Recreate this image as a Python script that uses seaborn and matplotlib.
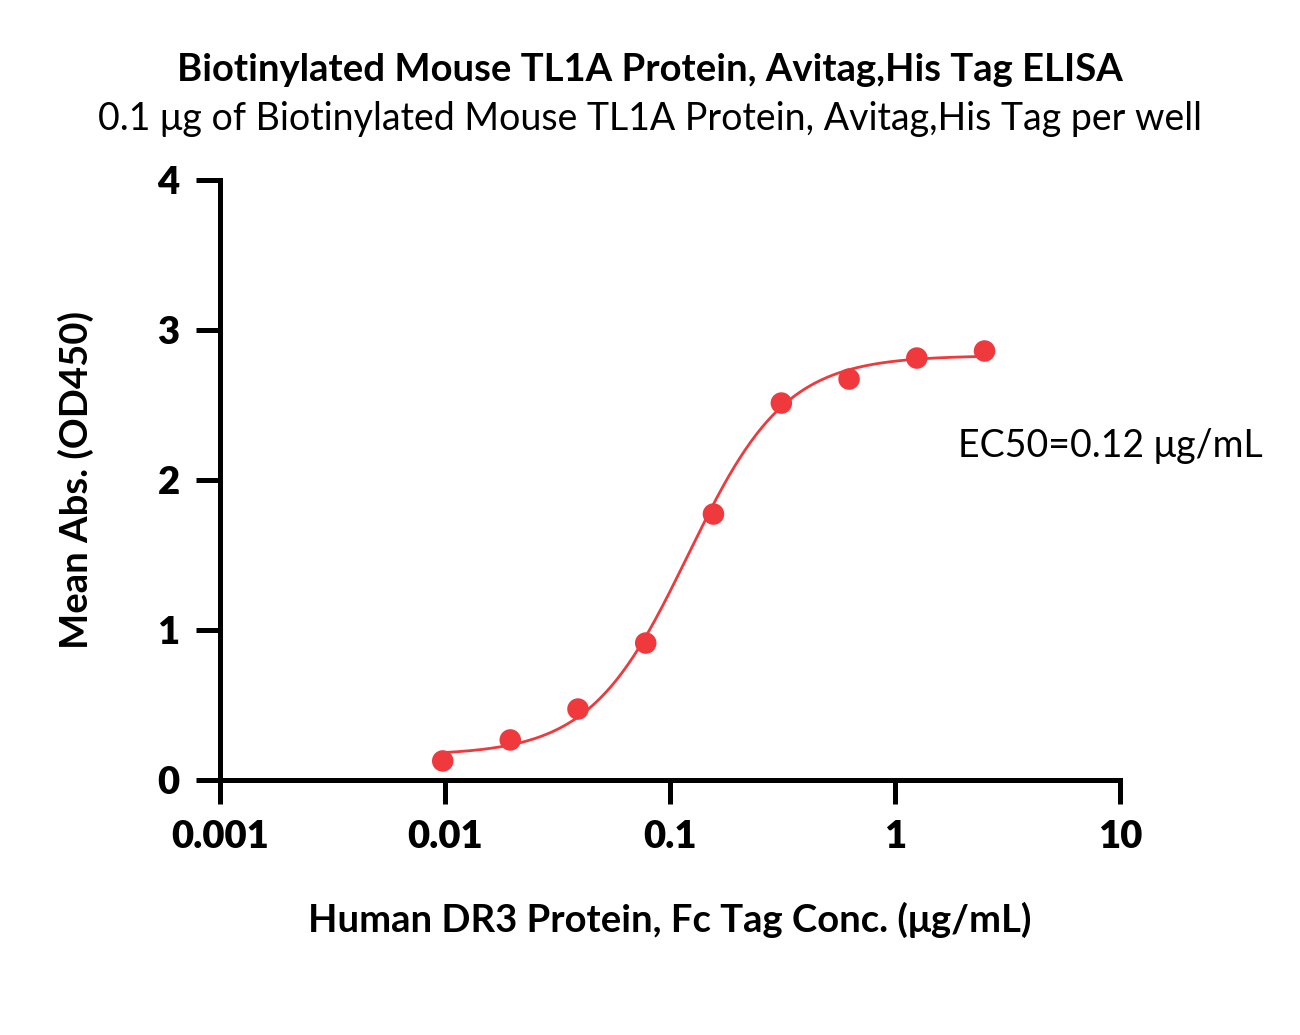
import numpy as np
import pandas as pd
import matplotlib
matplotlib.use("Agg")
import matplotlib.pyplot as plt
import seaborn as sns

# Data
conc = [0.00977, 0.0195, 0.039, 0.078, 0.156, 0.3125, 0.625, 1.25, 2.5]
od450 = [0.127, 0.267, 0.473, 0.913, 1.773, 2.513, 2.673, 2.813, 2.86]

# 4PL fit parameters (EC50 label and plateaus)
fit_bottom = 0.165
fit_top = 2.83
fit_ec50 = 0.12
fit_hill = 2.0

x_ticks = [0.001, 0.01, 0.1, 1, 10]
x_tick_labels = ["0.001", "0.01", "0.1", "1", "10"]
y_ticks = [0, 1, 2, 3, 4]

title = "Biotinylated Mouse TL1A Protein, Avitag,His Tag ELISA"
subtitle = "0.1 \u03bcg of Biotinylated Mouse TL1A Protein, Avitag,His Tag per well"
xlabel = "Human DR3 Protein, Fc Tag Conc. (\u03bcg/mL)"
ylabel = "Mean Abs. (OD450)"
ec50_text = "EC50=0.12 \u03bcg/mL"

sns.set_theme(style="ticks")
plt.rcParams["font.family"] = ["Lato", "DejaVu Sans"]
plt.rcParams["text.color"] = "black"
plt.rcParams["axes.labelcolor"] = "black"
plt.rcParams["xtick.color"] = "black"
plt.rcParams["ytick.color"] = "black"

red = "#F0393C"

fig = plt.figure(figsize=(13, 10.35), dpi=100)
ax = fig.add_axes([220/1300, 1 - 780/1035, 900/1300, 600/1035])

df = pd.DataFrame({"conc": conc, "od": od450})
xs = np.logspace(np.log10(conc[0]), np.log10(conc[-1]), 300)
ys = fit_bottom + (fit_top - fit_bottom) / (1 + (fit_ec50 / xs) ** fit_hill)
curve = pd.DataFrame({"x": xs, "y": ys})

sns.lineplot(data=curve, x="x", y="y", ax=ax, color=red, lw=2, zorder=2)
sns.scatterplot(data=df, x="conc", y="od", ax=ax, color=red, s=240,
                edgecolor="none", zorder=3)

ax.set_xscale("log")
ax.set_xlim(0.001, 10)
ax.set_ylim(0, 4)
ax.set_xticks(x_ticks)
ax.set_xticklabels(x_tick_labels)
ax.set_yticks(y_ticks)
ax.xaxis.set_minor_locator(matplotlib.ticker.NullLocator())

for s in ["top", "right"]:
    ax.spines[s].set_visible(False)
for s in ["left", "bottom"]:
    ax.spines[s].set_linewidth(3.6)
    ax.spines[s].set_color("black")
ax.tick_params(axis="both", which="major", length=17, width=3.6, color="black",
               labelsize=27.5, pad=12, labelcolor="black")
for lab in ax.get_xticklabels() + ax.get_yticklabels():
    lab.set_fontweight("heavy")

ax.set_xlabel(xlabel, fontsize=27.5, fontweight="bold", labelpad=34, color="black")
ax.set_ylabel(ylabel, fontsize=27.5, fontweight="bold", labelpad=46, color="black")

fig.text(0.5, 1 - 70/1035, title, ha="center", va="center", fontsize=27.5,
         fontweight="bold", color="black")
fig.text(0.5, 1 - 119/1035, subtitle, ha="center", va="center", fontsize=27,
         color="black")
ax.text(1.9, 2.23, ec50_text, fontsize=27, ha="left", va="center", color="black")

fig.savefig("out.png", dpi=100)
